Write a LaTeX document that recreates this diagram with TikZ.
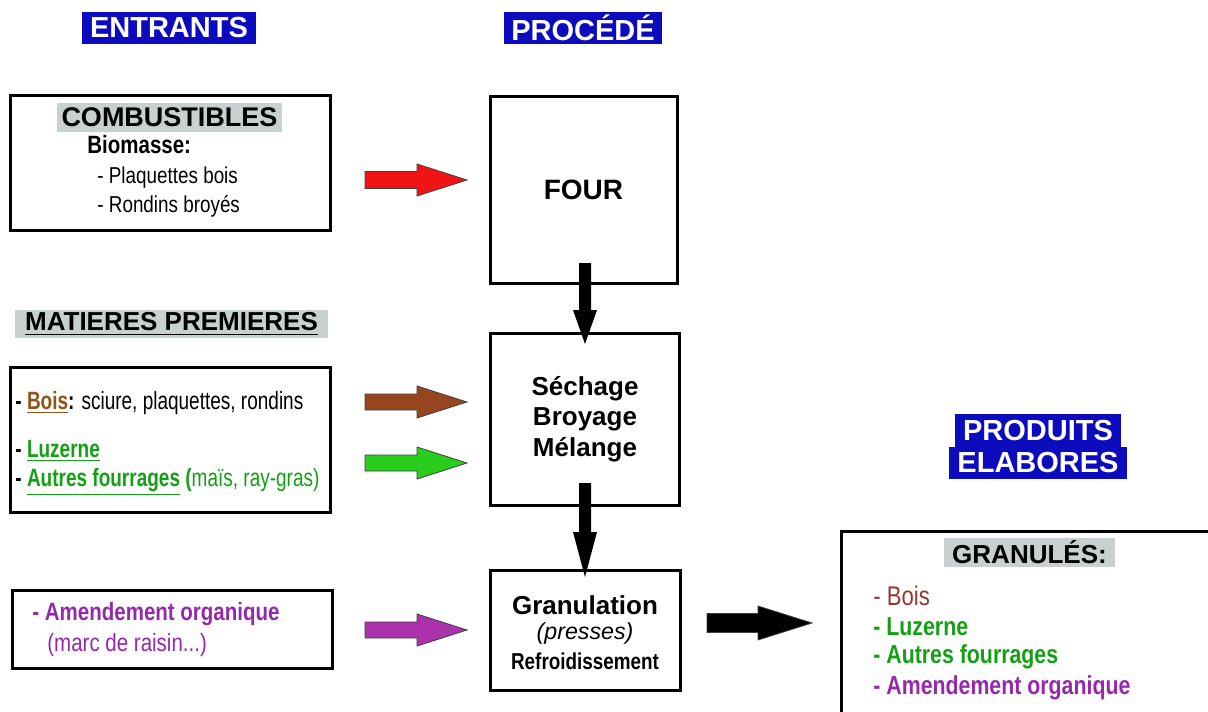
\documentclass[tikz,border=0pt]{standalone}
\usepackage{fontspec}
\setmainfont{Liberation Sans}
\newfontfamily\nfont{Liberation Sans}[FakeStretch=0.82]
\newfontfamily\nnfont{Liberation Sans}[FakeStretch=0.76]
\usetikzlibrary{fit}
\definecolor{hblue}{RGB}{12,12,190}
\definecolor{hgray}{RGB}{200,208,208}
\definecolor{tbrown}{RGB}{140,85,25}
\definecolor{tbrown2}{RGB}{150,55,50}
\definecolor{tgreen}{RGB}{20,160,20}
\definecolor{tpurple}{RGB}{150,40,170}
\definecolor{ared}{RGB}{240,20,20}
\definecolor{abrown}{RGB}{150,70,30}
\definecolor{agreen}{RGB}{40,205,30}
\definecolor{apurple}{RGB}{170,50,170}
\newcommand\blkarrowH[8]{% name, fill, tail x, tip x, y, headlen, shafthalf, headhalf
  \coordinate (#1-tail) at (#3,#5);
  \coordinate (#1-tip) at (#4,#5);
  \filldraw[fill=#2,draw=black!75,line width=0.4pt]
    (#3,#5-#7) -- (#4-#6,#5-#7) -- (#4-#6,#5-#8) -- (#1-tip)
    -- (#4-#6,#5+#8) -- (#4-#6,#5+#7) -- (#3,#5+#7) -- cycle;}
\newcommand\blkarrowV[7]{% name, x, tail y, tip y, headlen, shafthalf, headhalf
  \coordinate (#1-tail) at (#2,#3);
  \coordinate (#1-tip) at (#2,#4);
  \fill[black]
    (#2-#6,#3) -- (#2-#6,#4-#5) -- (#2-#7,#4-#5) -- (#1-tip)
    -- (#2+#7,#4-#5) -- (#2+#6,#4-#5) -- (#2+#6,#3) -- cycle;}
\begin{document}
\begin{tikzpicture}[x=0.5pt,y=-0.5pt,
  box/.style={draw=black,line width=1.5pt,inner sep=0pt},
  hdrbox/.style={fill=hblue,inner sep=0pt},
  hdr/.style={text=white,font=\fontsize{14.5}{17}\selectfont\bfseries,inner sep=0pt,align=center},
  hl/.style={fill=hgray,inner sep=0pt},
  ttl/.style={font=\fontsize{13.5}{16}\selectfont\bfseries,inner sep=0pt},
  proc/.style={font=\fontsize{13}{15.25}\selectfont\bfseries,inner sep=0pt,align=center},
  item/.style={font=\nfont\fontsize{12.5}{15}\selectfont,inner sep=0pt,anchor=west},
  mitem/.style={font=\nnfont\fontsize{12.5}{15}\selectfont,inner sep=0pt,anchor=west},
  gitem/.style={font=\nfont\fontsize{13}{15}\selectfont\bfseries,inner sep=0pt,anchor=west}]
\useasboundingbox (0,0) rectangle (1208,711);
\fill[white] (0,0) rectangle (1208,711);

% headers
\node[hdrbox,fit={(82,12)(256,44)}] (hentr) {};
\node[hdr] at (hentr.center) {ENTRANTS};
\node[hdrbox,fit={(504,12)(662,44)}] (hproc) {};
\node[hdr] at (hproc.center) {PROCÉDÉ};
\node[hdrbox,fit={(955,414)(1121,448)}] (hprod1) {};
\node[hdrbox,fit={(949,447)(1127,479)}] (hprod2) {};
\node[hdr] at (hprod1.center) {PRODUITS};
\node[hdr] at (hprod2.center) {ELABORES};

% combustibles
\node[box,fit={(10,96)(330,230)}] (comb) {};
\node[hl,fit={(57,103)(282,132)}] (combhl) {};
\node[ttl] at (combhl.center) {COMBUSTIBLES};
\node[item,font=\nfont\fontsize{12.5}{15}\selectfont\bfseries] at (87,145) {Biomasse:};
\node[item,font=\nfont\fontsize{11.5}{14}\selectfont] at (97,178) {- Plaquettes bois};
\node[item,font=\nfont\fontsize{11.5}{14}\selectfont] at (97,206) {- Rondins broyés};

% matieres premieres
\node[hl,fit={(15,310)(328,338)}] (mphl) {};
\node[ttl,font=\fontsize{13}{16}\selectfont\bfseries] at (mphl.center) {\underline{MATIERES PREMIERES}};
\node[box,fit={(10,367)(330,512)}] (mp) {};
\node[mitem] at (15,403) {\textbf{- \textcolor{tbrown}{\underline{Bois}}:} sciure, plaquettes, rondins};
\node[mitem] at (15,451) {\textbf{- \textcolor{tgreen}{\underline{Luzerne}}}};
\node[mitem] at (15,482) {\textbf{- \textcolor{tgreen}{\underline{Autres fourrages}} \textcolor{tgreen}{(}}\textcolor{tgreen}{maïs, ray-gras)}};

% amendement
\node[box,fit={(12,590)(332,668)}] (amd) {};
\node[item,text=tpurple] at (32,614) {\textbf{- Amendement organique}};
\node[item,text=tpurple] at (47,645) {(marc de raisin...)};

% process boxes
\node[box,fit={(490,97)(677,283)}] (four) {};
\node[proc,font=\fontsize{14}{16}\selectfont\bfseries] at (four.center) {FOUR};
\node[box,fit={(490,333)(679,505)}] (sech) {};
\node[proc] at (585,419) {Séchage\\Broyage\\Mélange};
\node[box,fit={(490,570)(680,690)}] (gran) {};
\node[proc] at (585,605) {Granulation};
\node[font=\itshape\fontsize{11.6}{14}\selectfont,inner sep=0pt] at (585,633) {(presses)};
\node[font=\nfont\fontsize{11.5}{14}\selectfont\bfseries,inner sep=0pt] at (585,661) {Refroidissement};

% granules
\draw[line width=1.5pt] (1212,531) -- (841,531) -- (841,715);
\coordinate (granu) at (841,531);
\node[hl,fit={(944,538)(1115,567)}] (granhl) {};
\node[ttl,font=\fontsize{13}{16}\selectfont\bfseries] at (granhl.center) {GRANULÉS:};
\node[gitem,text=tbrown2,font=\nfont\fontsize{13.5}{15}\selectfont] at (873,596) {- Bois};
\node[gitem,text=tgreen] at (873,627) {- Luzerne};
\node[gitem,text=tgreen] at (873,657) {- Autres fourrages};
\node[gitem,text=tpurple] at (873,688) {- Amendement organique};

% arrows
\blkarrowH{acomb}{ared}{365}{467}{180}{50}{8.5}{16}
\blkarrowH{abois}{abrown}{365}{467}{402}{50}{8}{16}
\blkarrowH{aluz}{agreen}{365}{467}{463}{50}{8}{16}
\blkarrowH{aamd}{apurple}{365}{467}{630}{50}{8}{16}
\blkarrowH{aout}{black}{707}{812}{623}{54}{9.5}{17}
\blkarrowV{afour}{585}{263}{344}{34}{6}{12}
\blkarrowV{asech}{585}{483}{577}{45}{6}{12}
\end{tikzpicture}
\end{document}
